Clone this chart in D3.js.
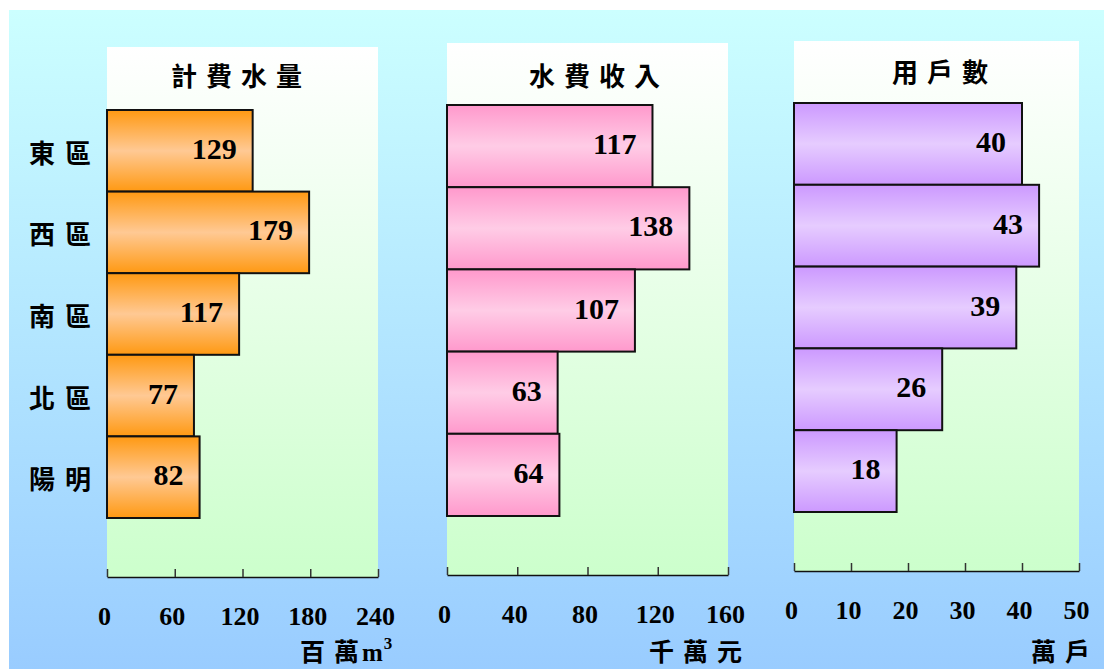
<!DOCTYPE html>
<html>
<head>
<meta charset="utf-8">
<script src="https://cdn.jsdelivr.net/npm/d3@7"></script>
<style>
  body { margin: 0; background: #fff; }
  svg { display: block; }
</style>
</head>
<body>
<div id="chart"></div>
<script>
const W = 1104, H = 669;

// data
const districts = ["東區", "西區", "南區", "北區", "陽明"];
const waterVolume = [129, 179, 117, 77, 82];   // 百萬m3
const revenue = [117, 138, 107, 63, 64];       // 千萬元
const households = [40, 43, 39, 26, 18];       // 萬戶
const panelTitles = ["計費水量", "水費收入", "用戶數"];
const volumeTicks = [0, 60, 120, 180, 240];
const revenueTicks = [0, 40, 80, 120, 160];
const householdTicks = [0, 10, 20, 30, 40, 50];

// layout of each panel
const panels = [
  { values: waterVolume, ticks: volumeTicks, title: panelTitles[0], grad: "gOrange",
    x0: 107, x1: 378, top: 47, axisY: 577, b0: 110, b1: 518, titleX: 171, titleY: 86 },
  { values: revenue, ticks: revenueTicks, title: panelTitles[1], grad: "gPink",
    x0: 447, x1: 728, top: 43, axisY: 575, b0: 105, b1: 516, titleX: 529, titleY: 86 },
  { values: households, ticks: householdTicks, title: panelTitles[2], grad: "gPurple",
    x0: 794, x1: 1079, top: 41, axisY: 571, b0: 103, b1: 512, titleX: 892, titleY: 82 },
];

const svg = d3.select("#chart").append("svg")
  .attr("width", W)
  .attr("height", H);

const defs = svg.append("defs");

function vGrad(id, stops) {
  const g = defs.append("linearGradient").attr("id", id)
    .attr("x1", 0).attr("y1", 0).attr("x2", 0).attr("y2", 1);
  stops.forEach(s => g.append("stop").attr("offset", s[0]).attr("stop-color", s[1]));
}
vGrad("gBg", [[0, "#ccffff"], [1, "#99ccff"]]);
vGrad("gPanel", [[0, "#ffffff"], [1, "#ccffcc"]]);
vGrad("gOrange", [[0, "#ff9912"], [0.5, "#ffc994"], [1, "#ff9912"]]);
vGrad("gPink", [[0, "#ff99cc"], [0.5, "#ffcce6"], [1, "#ff99cc"]]);
vGrad("gPurple", [[0, "#cc99ff"], [0.5, "#e6ccff"], [1, "#cc99ff"]]);

// page background
svg.append("rect")
  .attr("x", 9).attr("y", 10)
  .attr("width", W - 9).attr("height", H - 10)
  .attr("fill", "url(#gBg)");

const cjk = "'Noto Sans CJK TC', 'Noto Sans CJK SC', sans-serif";
const serif = "'Liberation Serif', 'Times New Roman', serif";

panels.forEach(function (p, i) {
  const g = svg.append("g");

  const x = d3.scaleLinear()
    .domain([0, p.ticks[p.ticks.length - 1]])
    .range([p.x0, p.x1]);
  const y = d3.scaleBand()
    .domain(districts)
    .range([p.b0, p.b1])
    .padding(0);

  // panel background
  g.append("rect")
    .attr("x", p.x0).attr("y", p.top)
    .attr("width", p.x1 - p.x0).attr("height", p.axisY - p.top)
    .attr("fill", "url(#gPanel)");

  // title
  g.append("text")
    .attr("x", p.titleX).attr("y", p.titleY)
    .attr("font-family", cjk)
    .attr("font-weight", 700)
    .attr("font-size", 26)
    .attr("letter-spacing", 9)
    .text(p.title);

  // bars
  g.selectAll("rect.bar")
    .data(p.values)
    .join("rect")
    .attr("class", "bar")
    .attr("x", x(0))
    .attr("y", (d, j) => y(districts[j]))
    .attr("width", d => x(d) - x(0))
    .attr("height", y.bandwidth())
    .attr("fill", `url(#${p.grad})`)
    .attr("stroke", "#111")
    .attr("stroke-width", 2);

  // value labels
  g.selectAll("text.val")
    .data(p.values)
    .join("text")
    .attr("class", "val")
    .attr("x", d => x(d) - 16)
    .attr("y", (d, j) => y(districts[j]) + y.bandwidth() / 2 + 8)
    .attr("text-anchor", "end")
    .attr("font-family", serif)
    .attr("font-weight", 700)
    .attr("font-size", 30)
    .text(d => d);

  // axis
  const axis = g.append("g")
    .attr("transform", `translate(0,${p.axisY})`)
    .call(d3.axisBottom(x).tickValues(p.ticks).tickSizeInner(-8).tickSizeOuter(0).tickPadding(30));
  axis.select(".domain").attr("stroke", "#111").attr("stroke-width", 1.5);
  axis.selectAll(".tick line").attr("stroke", "#333").attr("stroke-width", 1.5);
  axis.selectAll(".tick text")
    .attr("x", -3)
    .attr("fill", "#000")
    .attr("font-family", serif)
    .attr("font-weight", 700)
    .attr("font-size", 26);

  // category labels on the first panel
  if (i === 0) {
    svg.append("g").selectAll("text")
      .data(districts)
      .join("text")
      .attr("x", 29)
      .attr("y", d => y(d) + y.bandwidth() / 2 + 12)
      .attr("font-family", cjk)
      .attr("font-weight", 700)
      .attr("font-size", 26)
      .attr("letter-spacing", 10)
      .text(d => d);
  }
});

// unit labels
const unitStyle = sel => sel
  .attr("font-family", cjk)
  .attr("font-weight", 700)
  .attr("font-size", 25);

const u1 = svg.append("text").attr("x", 300).attr("y", 661).call(unitStyle);
u1.append("tspan").attr("letter-spacing", 9).text("百");
u1.append("tspan").attr("letter-spacing", 3).text("萬");
u1.append("tspan").attr("font-family", serif).attr("font-size", 25).text("m");
u1.append("tspan").attr("font-family", serif).attr("font-size", 17).attr("dx", 1).attr("dy", -12).text("3");

svg.append("text").attr("x", 649).attr("y", 661).attr("letter-spacing", 9).call(unitStyle).text("千萬元");
svg.append("text").attr("x", 1031).attr("y", 661).attr("letter-spacing", 9).call(unitStyle).text("萬戶");
</script>
</body>
</html>
